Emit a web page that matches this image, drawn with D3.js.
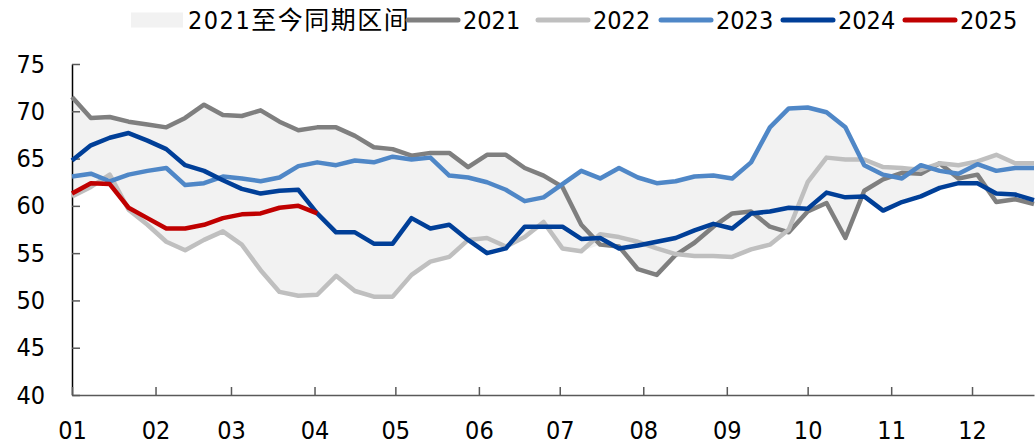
<!DOCTYPE html>
<html>
<head>
<meta charset="utf-8">
<script src="https://cdn.jsdelivr.net/npm/d3@7"></script>
<style>
  body { margin: 0; background: #fff; }
  svg text { font-family: "DejaVu Sans Condensed", "DejaVu Sans", sans-serif; font-stretch: condensed; fill: #000; }
  .legend text.cn { font-family: "DejaVu Sans Condensed", "Noto Sans CJK SC", sans-serif; letter-spacing: 1.5px; }
</style>
</head>
<body>
<script>
// weekly readings, one value per week starting 01-01
const y2021 = [71.5, 69.3, 69.4, 68.9, 68.6, 68.3, 69.3, 70.7, 69.6, 69.5, 70.1, 68.9, 68.0, 68.3,
  68.3, 67.4, 66.2, 66.0, 65.3, 65.6, 65.6, 64.1, 65.4, 65.4, 64.0, 63.2, 62.0, 58.0, 55.9, 55.7,
  53.3, 52.7, 54.8, 56.1, 57.8, 59.2, 59.4, 57.8, 57.2, 59.4, 60.3, 56.6, 61.6, 62.8, 63.5, 63.4,
  64.5, 62.9, 63.3, 60.4, 60.7, 60.2];
const y2022 = [61.0, 62.0, 63.3, 59.6, 58.0, 56.2, 55.3, 56.4, 57.3, 55.9, 53.2, 50.9, 50.5, 50.6,
  52.6, 51.0, 50.4, 50.4, 52.7, 54.1, 54.6, 56.4, 56.6, 55.7, 56.7, 58.3, 55.5, 55.2, 57.0, 56.7,
  56.2, 55.5, 54.9, 54.7, 54.7, 54.6, 55.4, 55.9, 57.5, 62.5, 65.1, 64.9, 64.9, 64.1, 64.0, 63.8,
  64.5, 64.3, 64.7, 65.4, 64.5, 64.5];
const y2023 = [63.1, 63.4, 62.6, 63.3, 63.7, 64.0, 62.2, 62.4, 63.1, 62.9, 62.6, 63.0, 64.2, 64.6,
  64.3, 64.8, 64.6, 65.2, 64.9, 65.1, 63.2, 63.0, 62.5, 61.7, 60.5, 60.9, 62.3, 63.7, 62.9, 64.0,
  63.0, 62.4, 62.6, 63.1, 63.2, 62.9, 64.6, 68.3, 70.3, 70.4, 69.9, 68.3, 64.3, 63.3, 62.9, 64.3,
  63.7, 63.4, 64.4, 63.7, 64.0, 64.0];
const y2024 = [64.8, 66.4, 67.2, 67.7, 66.9, 66.0, 64.3, 63.7, 62.7, 61.8, 61.3, 61.6, 61.7, 59.2,
  57.2, 57.2, 56.0, 56.0, 58.7, 57.6, 58.0, 56.4, 55.0, 55.5, 57.8, 57.8, 57.8, 56.5, 56.6, 55.5,
  55.8, 56.2, 56.6, 57.4, 58.1, 57.6, 59.2, 59.4, 59.8, 59.7, 61.4, 60.9, 61.0, 59.5, 60.4, 61.0,
  61.9, 62.4, 62.4, 61.3, 61.2, 60.6];
const y2025 = [61.3, 62.4, 62.3, 59.8, 58.7, 57.6, 57.6, 58.0, 58.7, 59.1, 59.2, 59.8, 60.0, 59.2];

const seriesNames = ['2021', '2022', '2023', '2024', '2025'];
const seriesValues = [y2021, y2022, y2023, y2024, y2025];
const seriesColors = ['#7f7f7f', '#bfbfbf', '#4f87c7', '#003f98', '#c00000'];
const bandLabel = '2021至今同期区间';
const yTicks = [40, 45, 50, 55, 60, 65, 70, 75];

const width = 1035, height = 446;
const margin = {top: 64, right: 0, bottom: 51, left: 72};
const fontSize = '25px';

const start = new Date(2023, 0, 1);
const weekDate = i => d3.timeDay.offset(start, 7 * i);

const x = d3.scaleTime()
  .domain([start, d3.timeDay.offset(start, 357)])
  .range([margin.left, width - 1]);

const y = d3.scaleLinear()
  .domain([40, 75])
  .range([height - margin.bottom, margin.top]);

const svg = d3.select('body').append('svg')
  .attr('width', width)
  .attr('height', height);

// band = min / max of all years at each week
const nWeeks = y2021.length;
const band = d3.range(nWeeks).map(i => {
  const vals = seriesValues.map(s => s[i]).filter(v => v != null);
  return {date: weekDate(i), lo: d3.min(vals), hi: d3.max(vals)};
});

svg.append('path')
  .datum(band)
  .attr('fill', '#f2f2f2')
  .attr('d', d3.area()
    .x(d => x(d.date))
    .y0(d => y(d.lo))
    .y1(d => y(d.hi)));

// axes
const yAxis = d3.axisLeft(y)
  .tickValues(yTicks)
  .tickSize(-8)
  .tickSizeOuter(0)
  .tickPadding(27);

svg.append('g')
  .attr('class', 'y axis')
  .attr('transform', `translate(${margin.left},0)`)
  .call(yAxis)
  .call(g => g.select('.domain').attr('stroke', '#000').attr('stroke-width', 1.5))
  .call(g => g.selectAll('.tick line').attr('stroke', '#595959').attr('stroke-width', 1.5))
  .call(g => g.selectAll('.tick text').style('font-size', fontSize));

const xAxis = d3.axisBottom(x)
  .ticks(d3.timeMonth.every(1))
  .tickFormat(d3.timeFormat('%m'))
  .tickSize(-8)
  .tickSizeOuter(0)
  .tickPadding(26);

svg.append('g')
  .attr('class', 'x axis')
  .attr('transform', `translate(0,${height - margin.bottom})`)
  .call(xAxis)
  .call(g => g.select('.domain').attr('stroke', '#595959').attr('stroke-width', 1.5))
  .call(g => g.selectAll('.tick line').attr('stroke', '#595959').attr('stroke-width', 1.5))
  .call(g => g.selectAll('.tick text').style('font-size', fontSize));

// lines
const line = d3.line()
  .x((d, i) => x(weekDate(i)))
  .y(d => y(d));

svg.append('g').selectAll('path')
  .data(seriesValues)
  .enter().append('path')
  .attr('fill', 'none')
  .attr('stroke', (d, i) => seriesColors[i])
  .attr('stroke-width', 4.5)
  .attr('stroke-linejoin', 'round')
  .attr('d', line);

// legend
const legend = svg.append('g').attr('class', 'legend');
const legendY = 20;

legend.append('rect')
  .attr('x', 131).attr('y', legendY - 7.5)
  .attr('width', 52).attr('height', 15)
  .attr('fill', '#f2f2f2');
legend.append('text')
  .attr('class', 'cn')
  .attr('x', 188).attr('y', legendY)
  .attr('dy', '0.36em')
  .style('font-size', fontSize)
  .text(bandLabel);

const legendX = [408, 538, 661, 783, 905];
seriesNames.forEach((name, i) => {
  legend.append('line')
    .attr('x1', legendX[i]).attr('x2', legendX[i] + 50)
    .attr('y1', legendY).attr('y2', legendY)
    .attr('stroke', seriesColors[i])
    .attr('stroke-width', 5)
    .attr('stroke-linecap', 'round');
  legend.append('text')
    .attr('x', legendX[i] + 55).attr('y', legendY)
    .attr('dy', '0.36em')
    .style('font-size', fontSize)
    .text(name);
});
</script>
</body>
</html>
